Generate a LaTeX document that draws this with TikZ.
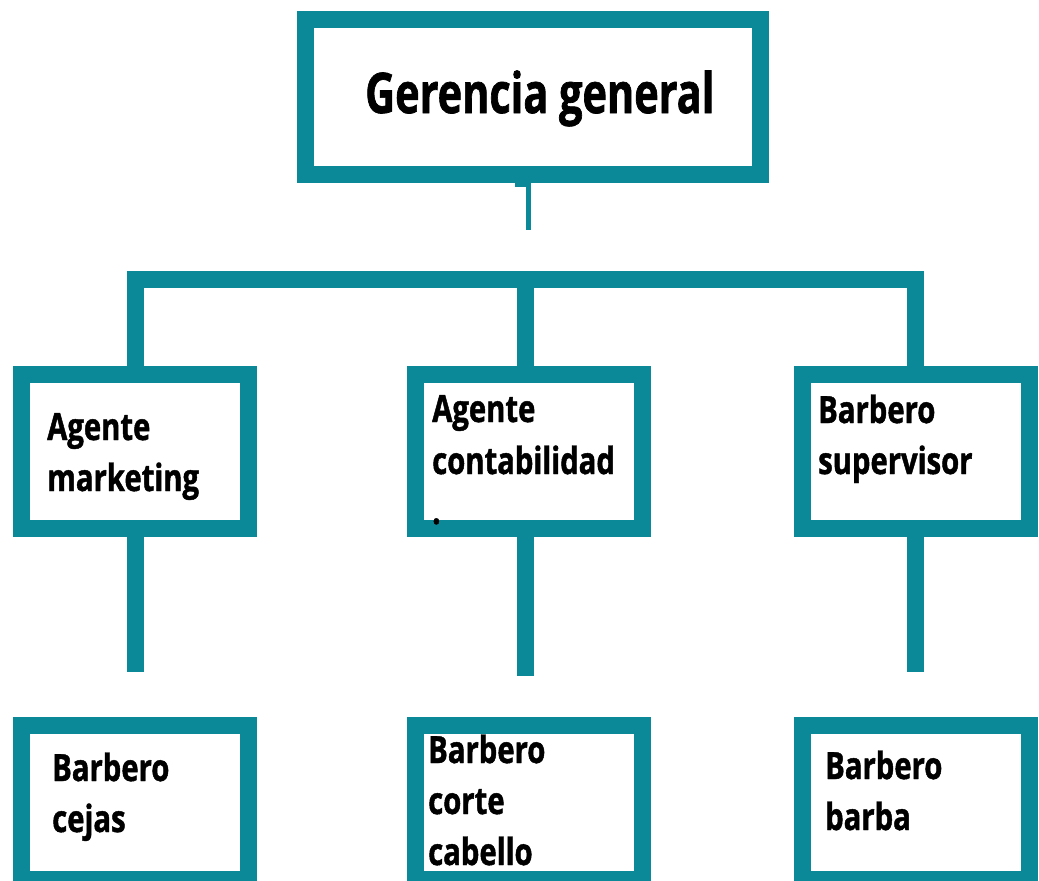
\documentclass[tikz,border=0pt]{standalone}
\usepackage{fontspec}
\setmainfont{Open Sans}
\newfontfamily\condfont[FakeStretch=0.78,FakeBold=1.2]{Open Sans}
\newfontfamily\titlefont[FakeStretch=0.74,FakeBold=1.2]{Open Sans}
\definecolor{teal1}{RGB}{12,137,152}
\tikzset{
  orgbox/.style={draw=teal1, line width=17pt, fill=white, minimum width=227pt, minimum height=154pt, inner sep=0pt, outer sep=0pt},
  bar/.style={draw=teal1, line width=17pt},
  thinbar/.style={draw=teal1, line width=5.5pt},
  lbl/.style={anchor=base west, inner sep=0pt, font=\condfont\bfseries\fontsize{37.5}{51}\selectfont},
  ttl/.style={anchor=base west, inner sep=0pt, font=\titlefont\bfseries\fontsize{56}{60}\selectfont}
}
\begin{document}
\begin{tikzpicture}[x=1pt,y=-1pt]
\useasboundingbox (0,0) rectangle (1039,881);
\fill[white] (0,0) rectangle (1039,881);
\clip (0,0) rectangle (1039,881);

% boxes
\node[orgbox, minimum width=455pt, minimum height=155pt] (top) at (533,97) {};
\node[orgbox] (m1) at (135,451.5) {};
\node[orgbox] (m2) at (529,451.5) {};
\node[orgbox] (m3) at (915.5,451.5) {};
\node[orgbox] (b1) at (135,802.5) {};
\node[orgbox] (b2) at (529,802.5) {};
\node[orgbox] (b3) at (915.5,802.5) {};

% connector coordinates
\coordinate (hookA) at (515,184.5);
\coordinate (hookB) at (528.5,184.5);
\coordinate (hookC) at (528.5,230);
\coordinate (busL) at (135.5,279);
\coordinate (busM) at (525.5,279);
\coordinate (busR) at (915.5,279);
\coordinate (d1) at (135.5,672);
\coordinate (d2) at (525.5,676);
\coordinate (d3) at (915.5,672);

\draw[thinbar] (hookA) -- (hookB) -- (hookC);
\draw[bar] (m1.north -| busL) -- ([yshift=-8.5pt]busL) -- (busL) -- (busR) -- ([yshift=-8.5pt]busR) -- (m3.north -| busR);
\draw[bar] (busM) -- (busM |- m2.north);
\draw[bar] (d1 |- m1.south) -- (d1);
\draw[bar] (d2 |- m2.south) -- (d2);
\draw[bar] (d3 |- m3.south) -- (d3);

% texts
\node[ttl] (t0) at (365,113) {Gerencia general};
\node[lbl] (t1a) at (47,440) {Agente};
\node[lbl] (t1b) at (47,491) {marketing};
\node[lbl] (t2a) at (432,422) {Agente};
\node[lbl] (t2b) at (432,474) {contabilidad};
\node[lbl] (t2c) at (432,524) {.};
\node[lbl] (t3a) at (818,423) {Barbero};
\node[lbl] (t3b) at (818,474) {supervisor};
\node[lbl] (t4a) at (52,781) {Barbero};
\node[lbl] (t4b) at (52,832) {cejas};
\node[lbl] (t5a) at (428,763) {Barbero};
\node[lbl] (t5b) at (428,814) {corte};
\node[lbl] (t5c) at (428,865) {cabello};
\node[lbl] (t6a) at (825,779) {Barbero};
\node[lbl] (t6b) at (825,830) {barba};
\end{tikzpicture}
\end{document}
